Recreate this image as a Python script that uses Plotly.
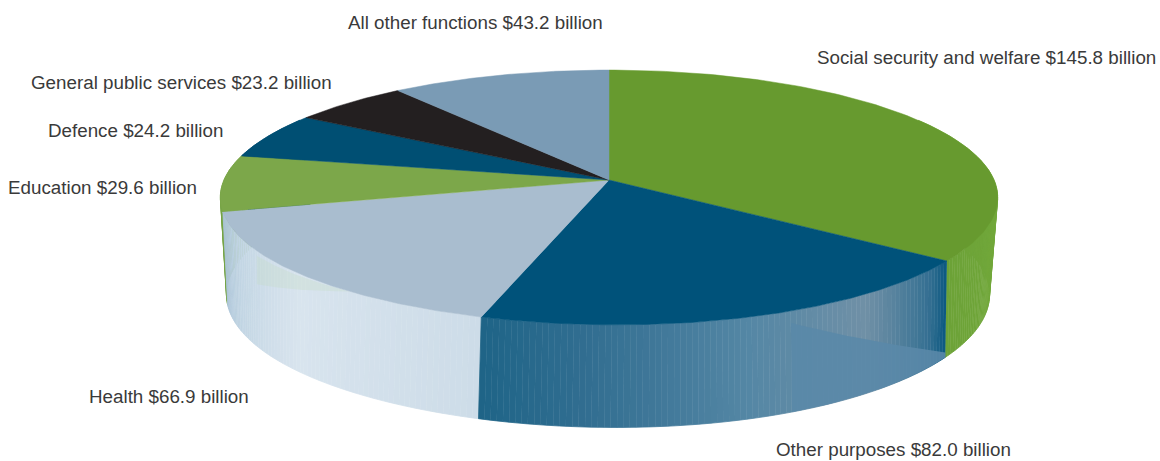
import numpy as np
import plotly.graph_objects as go

# Data, clockwise from twelve o'clock
categories = ["Social security and welfare", "Other purposes", "Health", "Education",
              "Defence", "General public services", "All other functions"]
values = [145.8, 82.0, 66.9, 29.6, 24.2, 23.2, 43.2]

# Styles
top_colours = ["#679A2F", "#00527A", "#A9BDCF", "#7CA74A", "#004F73", "#231F20", "#7A9BB5"]
side_stops = [
    [(0, (118, 172, 62)), (0.7, (118, 172, 62)), (1, (108, 162, 55))],
    [(0, (10, 88, 128)), (0.06, (50, 110, 145)), (0.25, (112, 144, 166)), (0.5, (85, 135, 165)),
     (0.8, (50, 110, 145)), (1, (30, 100, 135))],
    [(0, (205, 220, 232)), (0.5, (216, 228, 238)), (0.8, (195, 214, 228)), (1, (170, 195, 215))],
    [(0, (118, 165, 70)), (1, (118, 165, 70))],
    [(0, (0, 79, 115)), (1, (0, 79, 115))],
    [(0, (35, 31, 32)), (1, (35, 31, 32))],
    [(0, (122, 155, 181)), (1, (122, 155, 181))],
]
# Soft reflections on the wall: slice, span along the slice, band height at each end, colour
sheens = [
    (1, (0.0, 0.42), (0.95, 0.12), (1.0, 1.0), "rgba(90,136,168,0.9)"),
    (2, (0.34, 0.70), (0.0, 0.05), (0.0, 0.35), "rgba(195,220,190,0.28)"),
]
# Label anchors (left edge, vertical centre) in page pixels
label_x = [815, 774, 87, 6, 46, 29, 346]
label_y = [57, 449, 396, 187, 130, 82, 22]

# Perspective view of the disc
TOP = dict(cx=609, cy=180, a=385, b=125, k=0.137)
BOT = dict(cx=608, cy=272, a=376, b=129, k=0.17)
FRONT_SHIFT = 8


def project(theta, p):
    """Project circle angles (radians clockwise from the far point) to page pixels."""
    u, v = np.sin(theta), np.cos(theta)
    d = 1 + p["k"] * v
    shift = FRONT_SHIFT * np.clip(-v, 0, 1) ** 4
    return p["cx"] + p["a"] * u / d + shift, p["cy"] - p["b"] * v / d


def colour_at(stops, f):
    fs = [s[0] for s in stops]
    rgb = [np.interp(f, fs, [s[1][i] for s in stops]) for i in range(3)]
    return "rgb(%d,%d,%d)" % tuple(round(c) for c in rgb)


edges = np.concatenate([[0], np.cumsum(values)]) / np.sum(values) * 2 * np.pi
fig = go.Figure()

# Side wall, drawn far to near in thin strips so it can carry a gradient
VIS0, VIS1 = np.radians(60), np.radians(300)
strips = []
for i in range(len(values)):
    t0, t1 = edges[i], edges[i + 1]
    n = max(int(np.degrees(t1 - t0) / 0.8), 1)
    grid = np.linspace(t0, t1, n + 1)
    for j in range(n):
        a0, a1 = grid[j], grid[j + 1]
        if a1 < VIS0 or a0 > VIS1:
            continue
        strips.append((np.cos((a0 + a1) / 2), a0, a1, colour_at(side_stops[i], (j + 0.5) / n)))
strips.sort(key=lambda s: -s[0])
for _, a0, a1, col in strips:
    seg = np.linspace(a0, a1, 3)
    xt, yt = project(seg, TOP)
    xb, yb = project(seg[::-1], BOT)
    fig.add_trace(go.Scatter(x=np.r_[xt, xb], y=np.r_[yt, yb], mode="lines", fill="toself",
                             fillcolor=col, line=dict(color=col, width=0.8),
                             hoverinfo="skip", showlegend=False))

# Reflections on the wall
for i, (f0, f1), (h0a, h0b), (h1a, h1b), col in sheens:
    f = np.linspace(f0, f1, 50)
    th = edges[i] + f * (edges[i + 1] - edges[i])
    xt, yt = project(th, TOP)
    xb, yb = project(th, BOT)
    ha = np.linspace(h0a, h0b, 50)
    hb = np.linspace(h1a, h1b, 50)
    xs = np.r_[xt + (xb - xt) * ha, (xt + (xb - xt) * hb)[::-1]]
    ys = np.r_[yt + (yb - yt) * ha, (yt + (yb - yt) * hb)[::-1]]
    fig.add_trace(go.Scatter(x=xs, y=ys, mode="lines", fill="toself", fillcolor=col,
                             line=dict(width=0), hoverinfo="skip", showlegend=False))

# Top face
for i in range(len(values)):
    seg = np.linspace(edges[i], edges[i + 1], 120)
    x, y = project(seg, TOP)
    fig.add_trace(go.Scatter(x=np.r_[TOP["cx"], x, TOP["cx"]], y=np.r_[TOP["cy"], y, TOP["cy"]],
                             mode="lines", fill="toself", fillcolor=top_colours[i],
                             line=dict(color=top_colours[i], width=0.5),
                             name=categories[i], hoverinfo="skip", showlegend=False))

# Labels
for name, val, lx, ly in zip(categories, values, label_x, label_y):
    fig.add_annotation(x=lx, y=ly, text=f"{name} ${val:.1f} billion", showarrow=False,
                       xanchor="left", yanchor="middle", xref="x", yref="y",
                       font=dict(family="Liberation Sans", size=18.8, color="#3a3a3a"))

fig.update_layout(width=1160, height=461, margin=dict(l=0, r=0, t=0, b=0),
                  paper_bgcolor="white", plot_bgcolor="white", showlegend=False,
                  xaxis=dict(range=[0, 1160], visible=False, fixedrange=True),
                  yaxis=dict(range=[461, 0], visible=False, fixedrange=True))
fig.write_html("out.html", config=dict(displayModeBar=False),
               post_script="document.body.style.margin='0';document.documentElement.style.overflow='hidden';")
